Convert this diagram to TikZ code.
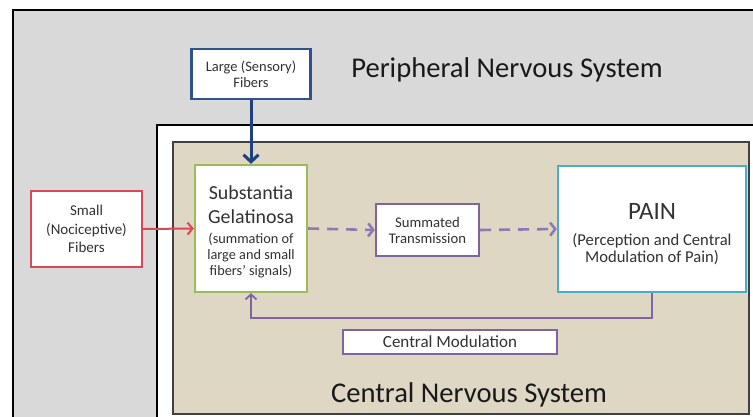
\documentclass[tikz,border=0pt]{standalone}
\usepackage{fontspec}
\setmainfont{Carlito}
\usetikzlibrary{arrows.meta}
\definecolor{pnsgray}{RGB}{217,217,217}
\definecolor{cnsbeige}{RGB}{221,215,196}
\definecolor{txt}{RGB}{50,50,50}
\definecolor{titletxt}{RGB}{25,25,25}
\definecolor{bluebox}{RGB}{47,82,143}
\definecolor{bluearr}{RGB}{31,64,128}
\definecolor{redbox}{RGB}{217,72,88}
\definecolor{greenbox}{RGB}{155,187,89}
\definecolor{purplebox}{RGB}{128,100,162}
\definecolor{purpledash}{RGB}{145,120,178}
\definecolor{tealbox}{RGB}{75,172,198}
\tikzset{
  box/.style={draw, fill=white, line width=2.4pt, align=center, text=txt, inner sep=1pt},
  fs/.style 2 args={font=\fontsize{#1}{#2}\selectfont},
  bluearrow/.style={draw=bluearr, line width=3pt, -{Straight Barb[length=7pt,width=15pt,line width=3pt]}},
  redarrow/.style={draw=redbox, line width=2pt, -{Straight Barb[length=5pt,width=12pt,line width=2pt]}},
  dasharrow/.style={draw=purpledash, line width=2.6pt, dash pattern=on 11pt off 8pt, -{Straight Barb[length=5pt,width=13pt,line width=2.6pt]}},
  modarrow/.style={draw=purplebox, line width=1.8pt, -{Straight Barb[length=5pt,width=11pt,line width=1.8pt]}},
  title/.style={text=titletxt, anchor=base, inner sep=0pt, font=\fontsize{28.6}{32}\selectfont}
}
\newcommand{\sgbig}{\fontsize{19.9}{22}\selectfont}
\newcommand{\sgsmall}{\fontsize{14.3}{16}\selectfont}
\newcommand{\painbig}{\fontsize{25}{30}\selectfont}
\newcommand{\painsmall}{\fontsize{16.6}{17}\selectfont}
\begin{document}
\begin{tikzpicture}[x=1pt,y=-1pt]
\useasboundingbox (0,0) rectangle (753,416);
\begin{scope}
  \clip (0,0) rectangle (753,416);
  \fill[white] (0,0) rectangle (753,416);
  \draw[fill=pnsgray, line width=2pt] (13,10) rectangle (780,440);
  \draw[fill=white, line width=2.8pt] (157,125) rectangle (780,440);
  \draw[fill=cnsbeige, draw=black!75, line width=1.2pt] (173,142) rectangle (749,414);
\end{scope}

\node[title] (pns) at (507,77) {Peripheral Nervous System};
\node[title] (cns) at (469,402) {Central Nervous System};

\node[box, draw=bluebox, minimum width=119pt, minimum height=50pt, fs={14.5}{16.5}] (large) at (251,74) {Large (Sensory)\\Fibers};
\node[box, draw=redbox, minimum width=111pt, minimum height=76pt, fs={15}{18.5}] (small) at (86.5,229) {Small\\(Nociceptive)\\Fibers};
\node[box, draw=greenbox, minimum width=112pt, minimum height=127pt, fs={14.3}{16}] (sg) at (251,228.5) {\rule{0pt}{21pt}\sgbig Substantia\\[8pt]\sgbig Gelatinosa\\[4pt]\sgsmall (summation of\\\sgsmall large and small\\\sgsmall fibers’ signals)};
\node[box, draw=purplebox, minimum width=103pt, minimum height=52pt, fs={14.7}{16}] (sum) at (427.5,230) {Summated\\Transmission};
\node[box, draw=tealbox, minimum width=188pt, minimum height=126pt, fs={16.6}{17}] (pain) at (652,229) {\rule{0pt}{27pt}\painbig PAIN\\[9pt]\painsmall (Perception and Central\\\painsmall Modulation of Pain)};
\node[box, draw=purplebox, minimum width=214pt, minimum height=24pt, inner sep=0pt, fs={17}{19}] (cm) at (450,342) {Central Modulation};

\draw[bluearrow] (large.south) -- (sg.north);
\draw[redarrow] (small.east) -- (sg.west);
\draw[dasharrow] (sg.east) -- (sum.west);
\draw[dasharrow] (sum.east) -- (pain.west);
\draw[modarrow] (pain.south) -- ++(0,25) -| (sg.south);
\end{tikzpicture}
\end{document}
